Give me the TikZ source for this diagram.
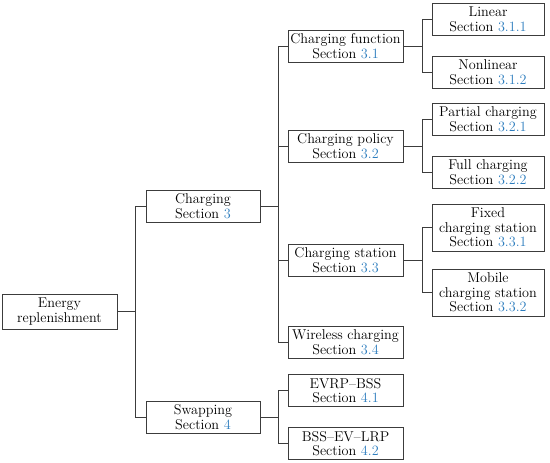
\documentclass[tikz,border=0pt]{standalone}
\definecolor{secblue}{RGB}{45,125,190}
\definecolor{linegray}{RGB}{60,60,60}
\newcommand{\secref}[1]{Section \textcolor{secblue}{#1}}
\begin{document}
\begin{tikzpicture}[x=1pt,y=-1pt,
  box/.style={draw=linegray,line width=0.8pt,align=center,inner sep=0pt,
    font=\fontsize{14.2}{14.7}\selectfont,minimum height=32pt},
  lvla/.style={box,minimum width=115pt},
  lvlc/.style={box,minimum width=112pt},
  conn/.style={draw=linegray,line width=0.8pt}]
\useasboundingbox (0,0) rectangle (550,463);
% level 0
\node[lvla,minimum height=35pt] (ER) at (59.5,311.5) {Energy\\replenishment};
% level 1
\node[lvla,minimum width=114pt] (CH) at (203,206) {Charging\\\secref{3}};
\node[lvla,minimum width=114pt] (SW) at (203,417) {Swapping\\\secref{4}};
% level 2
\node[lvla] (CF) at (345.5,46) {Charging function\\\secref{3.1}};
\node[lvla] (CP) at (345.5,146) {Charging policy\\\secref{3.2}};
\node[lvla] (CS) at (345.5,260) {Charging station\\\secref{3.3}};
\node[lvla] (WC) at (345.5,342) {Wireless charging\\\secref{3.4}};
\node[lvla] (E1) at (345.5,390.5) {EVRP--BSS\\\secref{4.1}};
\node[lvla] (E2) at (345.5,443.5) {BSS--EV--LRP\\\secref{4.2}};
% level 3
\node[lvlc] (LI) at (488,19) {Linear\\\secref{3.1.1}};
\node[lvlc] (NL) at (488,72) {Nonlinear\\\secref{3.1.2}};
\node[lvlc] (PC) at (488,119) {Partial charging\\\secref{3.2.1}};
\node[lvlc] (FC) at (488,172.5) {Full charging\\\secref{3.2.2}};
\node[lvlc,minimum height=47pt] (FX) at (488,227.5) {Fixed\\charging station\\\secref{3.3.1}};
\node[lvlc,minimum height=47pt] (MB) at (488,292.5) {Mobile\\charging station\\\secref{3.3.2}};
% junctions
\coordinate (jER) at (135,311.5);
\coordinate (jCH) at (278,206);
\coordinate (jSW) at (278,417);
\coordinate (jCF) at (422,46);
\coordinate (jCP) at (422,146);
\coordinate (jCS) at (422,260);
% connectors
\draw[conn] (ER.east) -- (jER) |- (CH.west);
\draw[conn] (jER) |- (SW.west);
\draw[conn] (CH.east) -- (jCH) |- (CF.west);
\draw[conn] (jCH) |- (CP.west);
\draw[conn] (jCH) |- (CS.west);
\draw[conn] (jCH) |- (WC.west);
\draw[conn] (SW.east) -- (jSW) |- (E1.west);
\draw[conn] (jSW) |- (E2.west);
\draw[conn] (CF.east) -- (jCF) |- (LI.west);
\draw[conn] (jCF) |- (NL.west);
\draw[conn] (CP.east) -- (jCP) |- (PC.west);
\draw[conn] (jCP) |- (FC.west);
\draw[conn] (CS.east) -- (jCS) |- (FX.west);
\draw[conn] (jCS) |- (MB.west);
\end{tikzpicture}
\end{document}
